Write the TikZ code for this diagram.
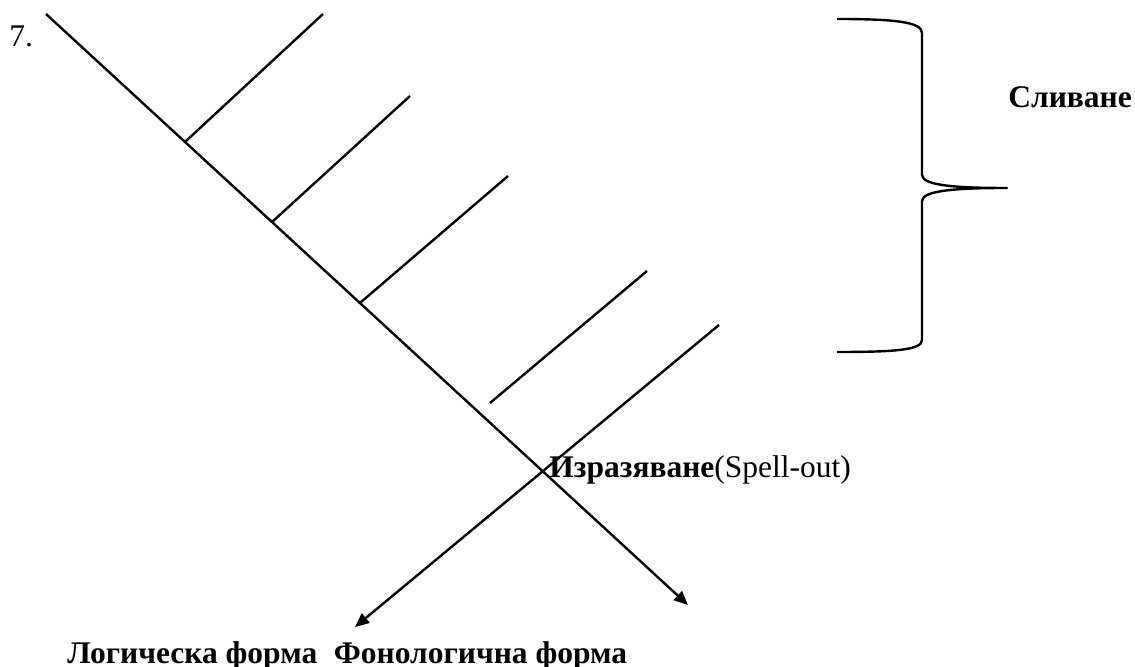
\documentclass[tikz,border=0pt]{standalone}
\usepackage{fontspec}
\setmainfont{Liberation Serif}
\usetikzlibrary{arrows.meta,calc}
\begin{document}
\begin{tikzpicture}[x=0.5pt,y=-0.5pt,
  stroke/.style={line width=1.2pt,line cap=butt,line join=round},
  arrowline/.style={stroke,-{Triangle[length=7pt,width=6pt]}},
  lbl/.style={inner sep=0pt,font=\fontsize{15.75}{19}\selectfont},
  boldlbl/.style={lbl,font=\fontsize{15.75}{19}\selectfont\bfseries}]
\useasboundingbox (0,0) rectangle (1135,667);

% main derivation line and the points where the branches join it
\coordinate (root) at (46,14);
\coordinate (pf) at (688,605);
\coordinate (j1) at ($(root)!0.2165!(pf)$);
\coordinate (j2) at ($(root)!0.352!(pf)$);
\coordinate (j3) at ($(root)!0.489!(pf)$);

% upper ends of the merged branches
\coordinate (t1) at (323,14);
\coordinate (t2) at (410,96);
\coordinate (t3) at (508,176);

% detached branch
\coordinate (d1) at (490,403);
\coordinate (d2) at (647,271);

% spell-out branch, leading to logical form
\coordinate (s1) at (719,325);
\coordinate (lf) at (355,627);

\draw[arrowline] (root) -- (pf);
\draw[stroke] (j1) -- (t1);
\draw[stroke] (j2) -- (t2);
\draw[stroke] (j3) -- (t3);
\draw[stroke] (d1) -- (d2);
\draw[arrowline] (s1) -- (lf);

% curly brace grouping the merge steps
\coordinate (bt) at (837,19);
\coordinate (bm) at (1007,188);
\coordinate (bb) at (837,352);
\draw[stroke] (bt) .. controls (895,19) and (922,22) .. (922,33)
  -- (922,175) .. controls (922,186) and (960,188) .. (bm)
  .. controls (960,188) and (922,190) .. (922,201)
  -- (922,340) .. controls (922,350) and (895,352) .. (bb);

% labels
\node[lbl,anchor=base west] (num) at (9,47) {7.};
\node[boldlbl,anchor=base west] (merge) at (1008,108) {Сливане};
\node[lbl,anchor=base west] (spell) at (549,478) {\textbf{Изразяване}(Spell-out)};
\node[boldlbl,anchor=base west] (lflabel) at (67,663) {Логическа форма};
\node[boldlbl,anchor=base west] (pflabel) at ([xshift=7.9pt]lflabel.base east) {Фонологична форма};
\end{tikzpicture}
\end{document}
